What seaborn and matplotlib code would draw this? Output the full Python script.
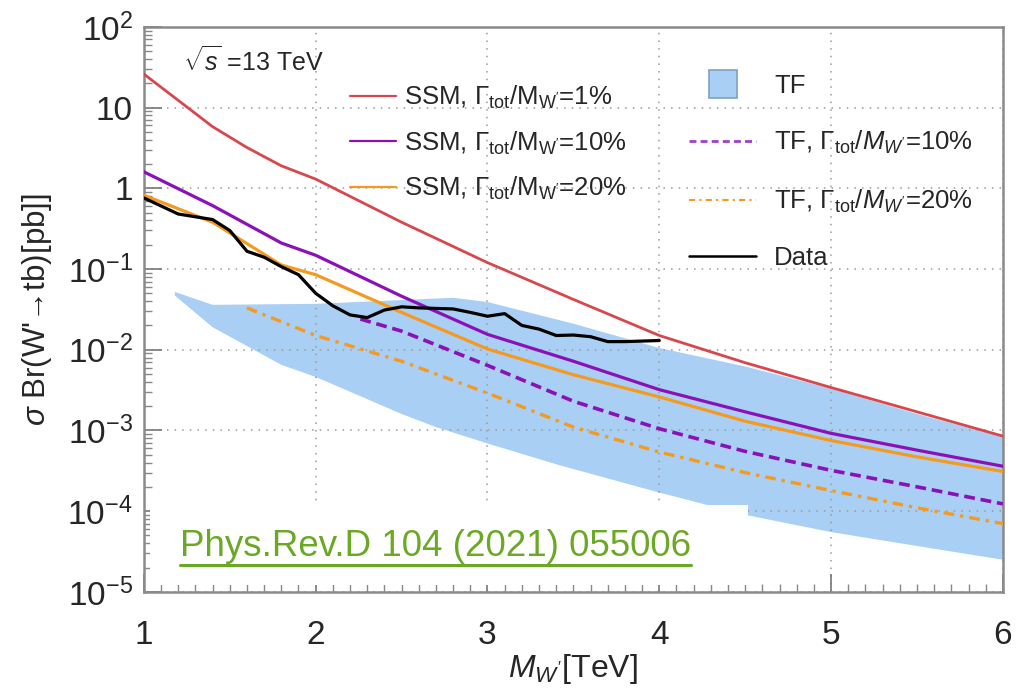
import numpy as np
import matplotlib
matplotlib.use("Agg")
import matplotlib.pyplot as plt
import seaborn as sns
from matplotlib.lines import Line2D
from matplotlib.patches import Rectangle
from matplotlib.ticker import FixedLocator, FixedFormatter, LogLocator, NullFormatter

# --- values (x in TeV, y in pb) ---
ssm1_x = [1.0, 1.2, 1.4, 1.6, 1.8, 2.0, 2.5, 3.0, 3.5, 4.0, 4.5, 5.0, 5.5, 6.0]
ssm1_y = [26, 12.3, 5.8, 3.2, 1.9, 1.3, 0.38, 0.12, 0.042, 0.015, 0.0069, 0.0034, 0.0017, 0.00085]

ssm10_x = [1.0, 1.4, 1.8, 2.0, 2.5, 3.0, 3.5, 4.0, 4.5, 5.0, 5.5, 6.0]
ssm10_y = [1.6, 0.61, 0.21, 0.148, 0.046, 0.0155, 0.0072, 0.0032, 0.0017, 0.00092, 0.00057, 0.00036]

ssm20_x = [1.0, 1.4, 1.8, 2.0, 2.5, 3.0, 3.5, 4.0, 4.5, 5.0, 5.5, 6.0]
ssm20_y = [0.82, 0.38, 0.112, 0.085, 0.029, 0.0102, 0.0049, 0.0026, 0.0013, 0.00075, 0.00047, 0.00031]

tf10_x = [2.26, 2.5, 3.0, 3.5, 4.0, 4.5, 5.0, 5.5, 6.0]
tf10_y = [0.024, 0.017, 0.0064, 0.0023, 0.00105, 0.00055, 0.00032, 0.0002, 0.000123]

tf20_x = [1.6, 2.0, 2.5, 3.0, 3.5, 4.0, 4.5, 5.0, 5.5, 6.0]
tf20_y = [0.033, 0.015, 0.0072, 0.0029, 0.0011, 0.00054, 0.0003, 0.00018, 0.00011, 0.00007]

band_up_x = [1.18, 1.4, 2.0, 2.8, 3.0, 3.5, 4.0, 4.5, 5.0, 5.5, 6.0]
band_up_y = [0.052, 0.036, 0.037, 0.044, 0.039, 0.021, 0.0105, 0.0062, 0.0033, 0.0016, 0.00083]
band_lo_x = [1.18, 1.4, 1.8, 2.0, 2.5, 2.7, 3.0, 3.42, 4.0, 4.5, 5.0, 5.5, 6.0]
band_lo_y = [0.047, 0.019, 0.0065, 0.0046, 0.0016, 0.0011, 0.00069, 0.00037, 0.00017, 0.00009, 0.000055, 0.000037, 0.000025]

data_x = [1.0, 1.2, 1.4, 1.5, 1.6, 1.7, 1.8, 1.9, 2.0, 2.1, 2.2, 2.3, 2.4, 2.5, 2.6,
          2.8, 2.9, 3.0, 3.1, 3.2, 3.3, 3.4, 3.5, 3.6, 3.7, 3.8, 4.0]
data_y = [0.76, 0.48, 0.41, 0.30, 0.166, 0.14, 0.107, 0.085, 0.050, 0.035, 0.027, 0.025,
          0.031, 0.034, 0.033, 0.032, 0.029, 0.026, 0.028, 0.020, 0.018, 0.015, 0.0152,
          0.0145, 0.0126, 0.0126, 0.013]

y_ticks = [1e-5, 1e-4, 1e-3, 1e-2, 1e-1, 1, 10, 100]
y_ticklabels = [r'$10^{-5}$', r'$10^{-4}$', r'$10^{-3}$', r'$10^{-2}$', r'$10^{-1}$', '1', '10', r'$10^{2}$']
x_ticks = [1, 2, 3, 4, 5, 6]

RED = '#D8474B'
PURPLE = '#8C10B8'
ORANGE = '#F59A1E'
BAND = '#AACFF4'
GREEN = '#6BA825'

sns.set_style('white')
plt.rcParams['font.family'] = ['Liberation Sans', 'DejaVu Sans']
plt.rcParams['mathtext.fontset'] = 'custom'
plt.rcParams['mathtext.rm'] = 'Liberation Sans'
plt.rcParams['mathtext.it'] = 'Liberation Sans:italic'
plt.rcParams['mathtext.bf'] = 'Liberation Sans:bold'

fig = plt.figure(figsize=(10.35, 6.89), dpi=100)
ax = fig.add_axes([0.139, 0.141, 0.830, 0.820])
ax.set_yscale('log')
ax.set_xlim(1, 6)
ax.set_ylim(1e-5, 1e2)

# TF band
ax.fill(np.concatenate([band_up_x, band_lo_x[::-1]]),
        np.concatenate([band_up_y, band_lo_y[::-1]]),
        color=BAND, lw=0, zorder=1)

sns.lineplot(x=ssm1_x, y=ssm1_y, ax=ax, color=RED, lw=2.0, zorder=3)
sns.lineplot(x=ssm10_x, y=ssm10_y, ax=ax, color=PURPLE, lw=2.3, zorder=3)
sns.lineplot(x=ssm20_x, y=ssm20_y, ax=ax, color=ORANGE, lw=2.3, zorder=3)
sns.lineplot(x=tf10_x, y=tf10_y, ax=ax, color=PURPLE, lw=2.6, zorder=3)
ax.lines[-1].set_dashes([3.0, 1.6])
sns.lineplot(x=tf20_x, y=tf20_y, ax=ax, color=ORANGE, lw=2.4, zorder=3)
ax.lines[-1].set_dashes([3.2, 1.8, 1.0, 1.8])
sns.lineplot(x=data_x, y=data_y, ax=ax, color='black', lw=2.3, zorder=4)

# white patch behind the reference label
ax.add_patch(Rectangle((0.007, 0.012), 0.696, 0.142, transform=ax.transAxes,
                       facecolor='white', edgecolor='none', zorder=1.8))

# axes styling
ax.set_axisbelow('line')
ax.xaxis.set_major_locator(FixedLocator(x_ticks))
ax.xaxis.set_minor_locator(FixedLocator(np.arange(1, 6.01, 0.1)))
ax.yaxis.set_major_locator(FixedLocator(y_ticks))
ax.yaxis.set_major_formatter(FixedFormatter(y_ticklabels))
ax.yaxis.set_minor_locator(LogLocator(base=10, subs=np.arange(2, 10), numticks=20))
ax.yaxis.set_minor_formatter(NullFormatter())
ax.tick_params(axis='both', which='major', direction='in', labelsize=24, color='#777777',
               width=1.2, length=13, pad=8, top=False, right=False, left=True, bottom=True)
ax.tick_params(axis='x', which='major', pad=20)
ax.tick_params(axis='both', which='minor', direction='in', color='#888888',
               width=1.0, length=6, top=False, right=False, left=True, bottom=True)
ax.grid(True, which='major', linestyle=(0, (1, 4)), color='#9a9a9a', lw=1.1)
for s in ax.spines.values():
    s.set_color('#8a8a8a')
    s.set_linewidth(1.8)

ax.set_xlabel(r"$M_{W'}$[TeV]", fontsize=23, labelpad=1)
ax.set_ylabel(r"$\sigma$ Br(W'→tb)[pb]]", fontsize=22.5, labelpad=10)

ax.text(0.045, 0.94, r'$\sqrt{s}$ =13 TeV', transform=ax.transAxes, fontsize=18,
        va='center', ha='left')

# legends
lab_ssm = r'SSM, $\Gamma_{\mathrm{tot}}/\mathrm{M}_{\mathrm{W}^{\prime}}$=%s'
lab_tf = r'TF, $\Gamma_{\mathrm{tot}}/M_{W^{\prime}}$=%s'
h_left = [Line2D([], [], color=RED, lw=1.6), Line2D([], [], color=PURPLE, lw=1.6),
          Line2D([], [], color=ORANGE, lw=1.6)]
leg1 = ax.legend(h_left, [lab_ssm % '1%', lab_ssm % '10%', lab_ssm % '20%'],
                 loc='upper left', bbox_to_anchor=(0.225, 0.922), frameon=False,
                 fontsize=18.5, handlelength=1.8, handletextpad=0.3, labelspacing=0.72,
                 borderpad=0)
ax.add_artist(leg1)
h_tf10 = Line2D([], [], color='#A040C8', lw=2)
h_tf10.set_dashes([2.5, 1.5])
h_tf20 = Line2D([], [], color=ORANGE, lw=1.5)
h_tf20.set_dashes([3, 2, 1, 2])
h_right = [Line2D([], [], marker='s', markersize=20, linestyle='none',
                  markerfacecolor=BAND, markeredgecolor='#7f9fc4', markeredgewidth=1.2),
           h_tf10, h_tf20, Line2D([], [], color='black', lw=1.8)]
ax.legend(h_right, ['TF', lab_tf % '10%', lab_tf % '20%', 'Data'],
          loc='upper left', bbox_to_anchor=(0.62, 0.94), frameon=False,
          fontsize=18.5, handlelength=2.6, handletextpad=0.7, labelspacing=1.22,
          borderpad=0)

ref = ax.text(0.042, 0.064, 'Phys.Rev.D 104 (2021) 055006', transform=ax.transAxes,
              fontsize=26.5, color=GREEN, va='baseline', ha='left', zorder=5)
fig.canvas.draw()
bb = ref.get_window_extent()
inv = fig.transFigure.inverted()
(x0, y0), (x1, _) = inv.transform([(bb.x0, bb.y0 - 1), (bb.x1, bb.y0 - 1)])
fig.add_artist(Line2D([x0, x1], [y0, y0], color=GREEN, lw=2.2, transform=fig.transFigure))

fig.savefig('out.png', dpi=100)
